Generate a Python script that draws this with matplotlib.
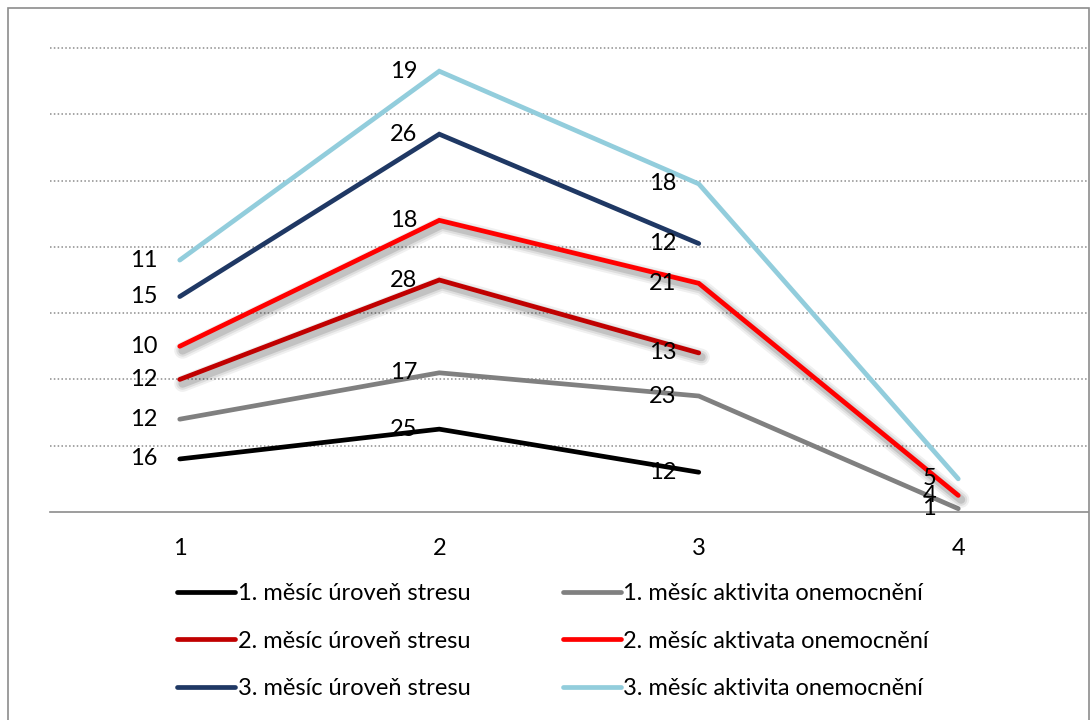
import numpy as np
import matplotlib.pyplot as plt
import matplotlib.patheffects as pe
from matplotlib.patches import Rectangle

plt.rcParams['font.family'] = ['Lato', 'DejaVu Sans']

# categories on x axis
categories = [1, 2, 3, 4]

# series (stacked line chart), nan = no value
names = ["1. měsíc úroveň stresu", "1. měsíc aktivita onemocnění",
         "2. měsíc úroveň stresu", "2. měsíc aktivata onemocnění",
         "3. měsíc úroveň stresu", "3. měsíc aktivita onemocnění"]
stres1 = [16, 25, 12, np.nan]
aktiv1 = [12, 17, 23, 1]
stres2 = [12, 28, 13, np.nan]
aktiv2 = [10, 18, 21, 4]
stres3 = [15, 26, 12, np.nan]
aktiv3 = [11, 19, 18, 5]
series = [stres1, aktiv1, stres2, aktiv2, stres3, aktiv3]
colors = ['#000000', '#808080', '#C00000', '#FF0000', '#1F3864', '#92CDDC']
shadow = [False, False, True, True, False, False]

fig = plt.figure(figsize=(10.91, 7.2), dpi=100)
ax = fig.add_axes([50 / 1091, 1 - 512 / 720, 1038 / 1091, 464 / 720])

x = np.array(categories)
base = np.zeros(len(x))
handles = {}
for name, vals, col, sh in zip(names, series, colors, shadow):
    vals = np.array(vals, dtype=float)
    cum = base + np.nan_to_num(vals)
    ok = ~np.isnan(vals)
    effects = None
    if sh:
        effects = [pe.SimpleLineShadow(offset=(2, -3), shadow_color='black', alpha=a, linewidth=w)
                   for a, w in [(0.06, 12), (0.08, 9), (0.12, 6)]] + [pe.Normal()]
    ln, = ax.plot(x[ok], cum[ok], color=col, lw=3.4, solid_capstyle='round',
                  solid_joinstyle='miter', path_effects=effects, zorder=3, label=name)
    handles[name] = ln
    for xi, yi, v in zip(x[ok], cum[ok], vals[ok]):
        ax.annotate(f"{int(v)}", (xi, yi), xytext=(-16, 0), textcoords='offset points',
                    ha='right', va='center', fontsize=17, zorder=5)
    base = cum

for g in range(20, 141, 20):
    ax.axhline(g, color='#8c8c8c', lw=1.1, ls=(0, (1, 1.5)), zorder=1, clip_on=False)

ax.set_xlim(0.5, 4.5)
ax.set_ylim(0, 140)
ax.set_yticks([])
ax.set_xticks(categories)
ax.set_xticklabels([str(c) for c in categories], fontsize=17)
ax.tick_params(axis='x', length=0, pad=19)
for s in ['top', 'left', 'right']:
    ax.spines[s].set_visible(False)
ax.spines['bottom'].set_color('#8c8c8c')
ax.spines['bottom'].set_linewidth(1.2)

order = [names[0], names[2], names[4], names[1], names[3], names[5]]
leg = fig.legend([handles[n] for n in order], order, ncol=2, loc='upper left',
                 bbox_to_anchor=(156 / 1091, 1 - 562 / 720), frameon=False, fontsize=17,
                 handlelength=2.45, handletextpad=0.12, columnspacing=3.9, labelspacing=1.12)
for h in leg.legend_handles:
    h.set_path_effects([pe.Normal()])

fig.patches.append(Rectangle((8 / 1091, -0.01), 1081 / 1091, 712 / 720 + 0.01,
                             transform=fig.transFigure, fill=False, edgecolor='#8c8c8c', lw=1.2))

fig.savefig('out.png', dpi=100)
